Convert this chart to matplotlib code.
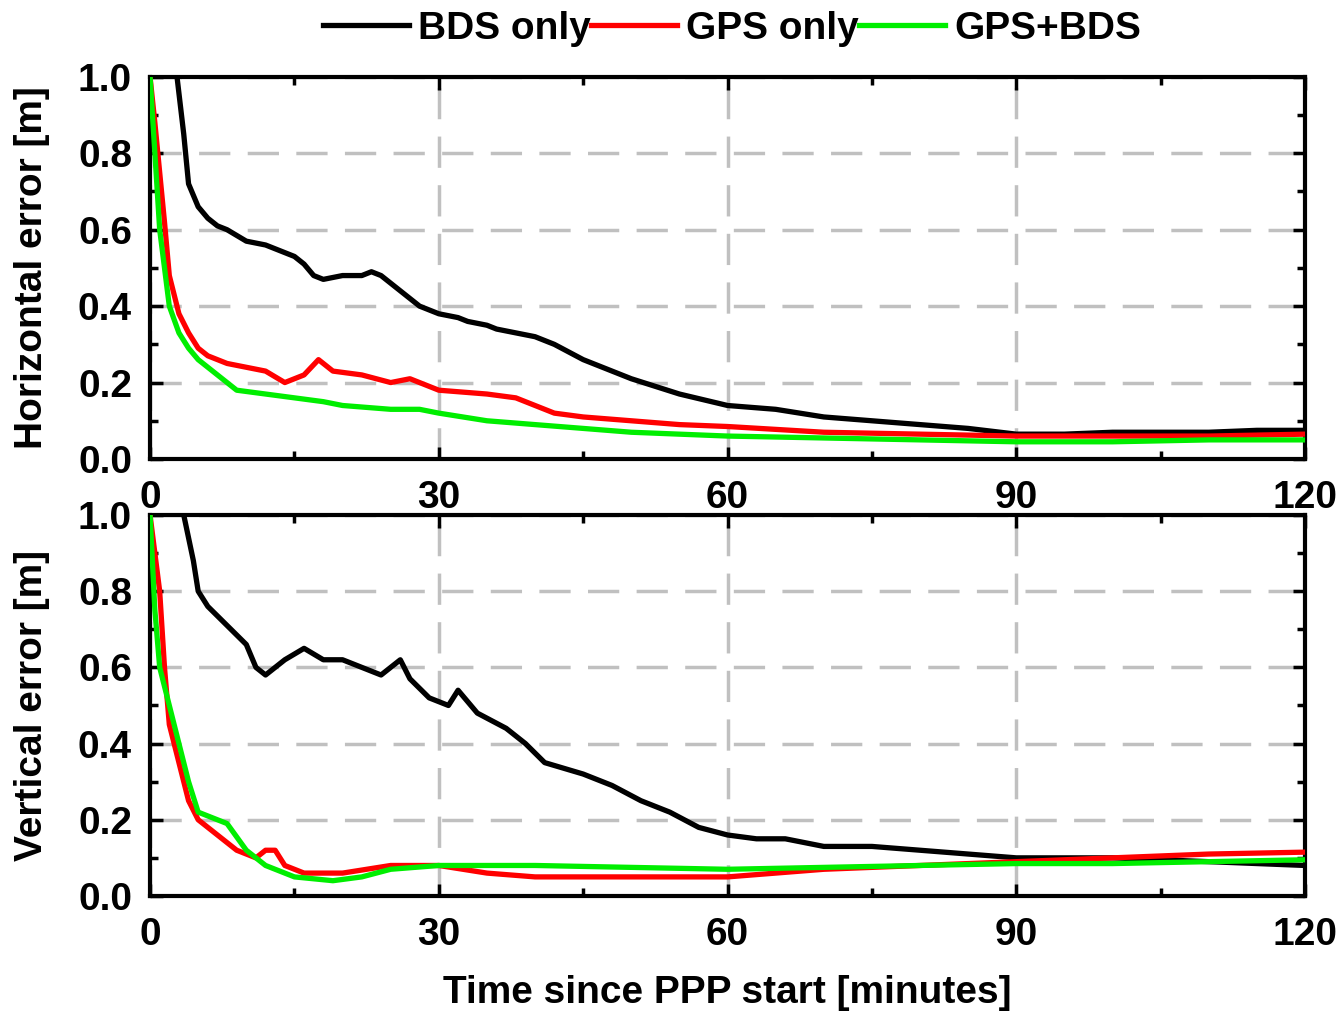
import matplotlib
matplotlib.use("Agg")
import matplotlib.pyplot as plt
from matplotlib.ticker import MultipleLocator

plt.rcParams['font.family'] = ['Liberation Sans', 'DejaVu Sans']
plt.rcParams['font.weight'] = 'bold'

# ---- data ----
series_names = ["BDS only", "GPS only", "GPS+BDS"]
series_colors = ["#000000", "#ff0000", "#00ee00"]

# Horizontal error
h_bds_t = [2.0, 2.8, 3.5, 4.0, 5.0, 6.0, 7.0, 8.0, 10.0, 12.0, 13.0, 15.0, 16.0, 17.0, 18.0, 20.0, 22.0, 23.0, 24.0, 26.0,
           28.0, 30.0, 32.0, 33.0, 35.0, 36.0, 38.0, 40.0, 42.0, 45.0, 48.0, 50.0, 55.0, 60.0, 65.0, 70.0, 75.0, 80.0,
           85.0, 90.0, 95.0, 100.0, 105.0, 110.0, 115.0, 120.0]
h_bds_v = [1.20, 1.00, 0.85, 0.72, 0.66, 0.63, 0.61, 0.60, 0.57, 0.56, 0.55, 0.53, 0.51, 0.48, 0.47, 0.48, 0.48, 0.49, 0.48,
           0.44, 0.40, 0.38, 0.37, 0.36, 0.35, 0.34, 0.33, 0.32, 0.30, 0.26, 0.23, 0.21, 0.17, 0.14, 0.13, 0.11, 0.10, 0.09,
           0.08, 0.065, 0.065, 0.07, 0.07, 0.07, 0.075, 0.075]
h_gps_t = [0.0, 0.5, 1.0, 1.5, 2.0, 3.0, 4.0, 5.0, 6.0, 8.0, 10.0, 12.0, 14.0, 16.0, 17.5, 19.0, 22.0, 25.0, 27.0, 30.0,
           35.0, 38.0, 40.0, 42.0, 45.0, 50.0, 55.0, 60.0, 70.0, 80.0, 90.0, 100.0, 110.0, 120.0]
h_gps_v = [1.00, 0.88, 0.75, 0.62, 0.48, 0.38, 0.33, 0.29, 0.27, 0.25, 0.24, 0.23, 0.20, 0.22, 0.26, 0.23, 0.22, 0.20, 0.21,
           0.18, 0.17, 0.16, 0.14, 0.12, 0.11, 0.10, 0.09, 0.085, 0.07, 0.065, 0.06, 0.06, 0.06, 0.065]
h_both_t = [0.0, 0.5, 1.0, 2.0, 3.0, 4.0, 5.0, 7.0, 9.0, 12.0, 15.0, 18.0, 20.0, 25.0, 28.0, 30.0, 35.0, 40.0, 45.0, 50.0,
            60.0, 70.0, 80.0, 90.0, 100.0, 110.0, 120.0]
h_both_v = [1.00, 0.80, 0.60, 0.40, 0.33, 0.29, 0.26, 0.22, 0.18, 0.17, 0.16, 0.15, 0.14, 0.13, 0.13, 0.12, 0.10, 0.09, 0.08,
            0.07, 0.06, 0.055, 0.05, 0.045, 0.045, 0.05, 0.05]

# Vertical error
v_bds_t = [3.0, 3.5, 4.5, 5.0, 6.0, 8.0, 10.0, 11.0, 12.0, 14.0, 16.0, 18.0, 20.0, 22.0, 24.0, 25.0, 26.0, 27.0, 29.0, 31.0,
           32.0, 34.0, 37.0, 39.0, 41.0, 45.0, 48.0, 51.0, 54.0, 57.0, 60.0, 63.0, 66.0, 70.0, 75.0, 80.0, 85.0, 90.0,
           95.0, 100.0, 110.0, 115.0, 120.0]
v_bds_v = [1.15, 1.00, 0.88, 0.80, 0.76, 0.71, 0.66, 0.60, 0.58, 0.62, 0.65, 0.62, 0.62, 0.60, 0.58, 0.60, 0.62, 0.57, 0.52,
           0.50, 0.54, 0.48, 0.44, 0.40, 0.35, 0.32, 0.29, 0.25, 0.22, 0.18, 0.16, 0.15, 0.15, 0.13, 0.13, 0.12, 0.11, 0.10,
           0.10, 0.10, 0.09, 0.085, 0.08]
v_gps_t = [0.0, 0.5, 1.0, 1.5, 2.0, 3.0, 4.0, 5.0, 7.0, 9.0, 11.0, 12.0, 13.0, 14.0, 16.0, 20.0, 25.0, 30.0, 35.0, 40.0,
           50.0, 60.0, 70.0, 80.0, 90.0, 100.0, 110.0, 120.0]
v_gps_v = [1.00, 0.90, 0.80, 0.60, 0.45, 0.35, 0.25, 0.20, 0.16, 0.12, 0.10, 0.12, 0.12, 0.08, 0.06, 0.06, 0.08, 0.08, 0.06,
           0.05, 0.05, 0.05, 0.07, 0.08, 0.09, 0.10, 0.11, 0.115]
v_both_t = [0.0, 0.5, 1.0, 2.0, 3.0, 4.0, 5.0, 7.0, 8.0, 10.0, 12.0, 15.0, 19.0, 22.0, 25.0, 30.0, 40.0, 50.0, 60.0, 70.0,
            80.0, 90.0, 100.0, 110.0, 120.0]
v_both_v = [1.00, 0.75, 0.60, 0.50, 0.40, 0.30, 0.22, 0.20, 0.19, 0.12, 0.08, 0.05, 0.04, 0.05, 0.07, 0.08, 0.08, 0.075, 0.07,
            0.075, 0.08, 0.085, 0.085, 0.09, 0.095]

x_ticks = [0, 30, 60, 90, 120]
y_ticks = [0.0, 0.2, 0.4, 0.6, 0.8, 1.0]

# ---- figure ----
fig = plt.figure(figsize=(13.41, 10.11), dpi=100)
ax1 = fig.add_axes([0.1119, 0.546, 0.8613, 0.378])
ax2 = fig.add_axes([0.1119, 0.1138, 0.8613, 0.3768])

FS = 28
panels = [
    (ax1, [(h_bds_t, h_bds_v), (h_gps_t, h_gps_v), (h_both_t, h_both_v)], "Horizontal error [m]"),
    (ax2, [(v_bds_t, v_bds_v), (v_gps_t, v_gps_v), (v_both_t, v_both_v)], "Vertical error [m]"),
]
lines = []
for ax, data, ylab in panels:
    for (t, v), c, n in zip(data, series_colors, series_names):
        ln, = ax.plot(t, v, color=c, lw=3.8, label=n, zorder=3)
        if ax is ax1:
            lines.append(ln)
    ax.set_xlim(0, 120)
    ax.set_ylim(0, 1.0)
    ax.set_xticks(x_ticks)
    ax.set_yticks(y_ticks)
    ax.set_yticklabels([f"{y:.1f}" for y in y_ticks])
    ax.xaxis.set_minor_locator(MultipleLocator(15))
    ax.yaxis.set_minor_locator(MultipleLocator(0.1))
    ax.tick_params(which='both', direction='in', top=True, right=True, width=2.5, labelsize=FS)
    ax.tick_params(which='major', length=9)
    ax.tick_params(axis='x', which='major', pad=15)
    ax.tick_params(axis='y', which='major', pad=13)
    ax.tick_params(which='minor', length=6)
    for lab in ax.get_xticklabels() + ax.get_yticklabels():
        lab.set_fontweight('bold')
    for s in ax.spines.values():
        s.set_linewidth(3)
    ax.grid(True, which='major', color='#c0c0c0', linestyle=(0, (9, 5)), linewidth=2.5, zorder=0)
    ax.set_ylabel(ylab, fontsize=FS, fontweight='bold')
    ax.yaxis.set_label_coords(-0.087, 0.5)

ax2.set_xlabel("Time since PPP start [minutes]", fontsize=FS, fontweight='bold', labelpad=16)

fig.legend(lines, series_names, loc='upper center', bbox_to_anchor=(0.546, 1.024), ncol=3, frameon=False,
           handlelength=2.2, handletextpad=0.25, columnspacing=0.0,
           prop={'weight': 'bold', 'size': FS})

fig.savefig("out.png", dpi=100)
